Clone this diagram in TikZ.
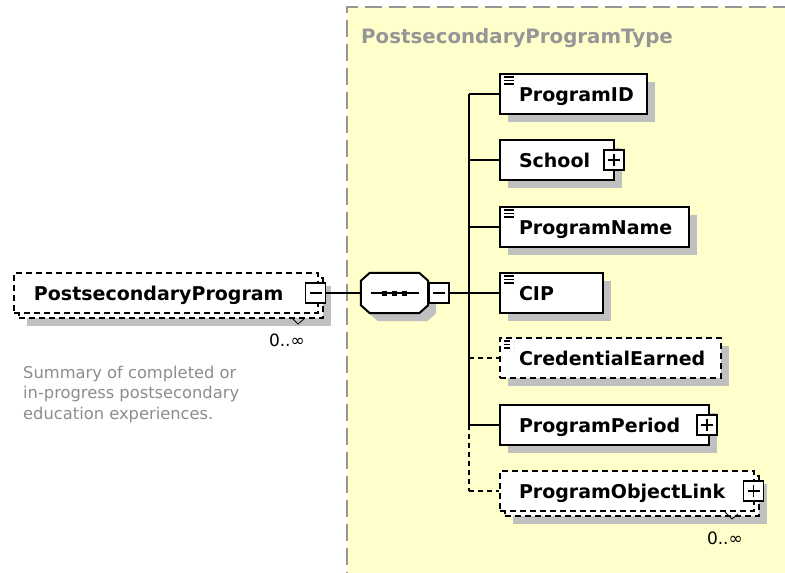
\documentclass[tikz,border=0pt]{standalone}
\usepackage{fontspec}
\setmainfont{DejaVu Sans}
\usetikzlibrary{shadows}
\definecolor{ybg}{RGB}{255,255,204}
\definecolor{bordergray}{RGB}{150,150,150}
\definecolor{titlegray}{RGB}{150,150,150}
\definecolor{descgray}{RGB}{140,140,140}
\definecolor{shgray}{RGB}{192,192,192}
\newcommand\elemfont{\bfseries\fontsize{19}{22}\selectfont}
\newcommand\occfont{\fontsize{17}{20}\selectfont}
\newcommand\lpad{\hspace*{19pt}}
\newcommand\octpath[1]{([xshift=9pt]#1.north west) -- ([xshift=-9pt]#1.north east) -- ([yshift=-8pt]#1.north east) -- ([yshift=8pt]#1.south east) -- ([xshift=-9pt]#1.south east) -- ([xshift=9pt]#1.south west) -- ([yshift=8pt]#1.south west) -- ([yshift=-8pt]#1.north west) -- cycle}
\begin{document}
\begin{tikzpicture}[x=1pt,y=-1pt,
  elembase/.style={draw=black, line width=2pt, fill=white, anchor=west,
    inner xsep=0pt, inner ysep=0pt, minimum height=40pt, align=left,
    text height=14pt, text depth=0pt, font=\elemfont},
  sh/.style={general shadow={fill=shgray, draw=none, shadow xshift=8pt, shadow yshift=-8pt}},
  elem/.style={elembase, sh},
  optdash/.style={dash pattern=on 6pt off 4pt},
  multi/.style={elembase, optdash,
    general shadow={fill=shgray, draw=none, shadow xshift=13pt, shadow yshift=-13pt},
    general shadow={fill=white, draw=black, line width=2pt, dash pattern=on 6pt off 4pt, shadow xshift=5pt, shadow yshift=-5pt}},
  simple/.style={path picture={
    \foreach \d in {3,6.5,10}
      \draw[line width=1.2pt] ([shift={(4pt,-\d pt)}]path picture bounding box.north west) -- +(10pt,0);}},
  pmbox/.style={draw=black, fill=white, line width=1.5pt, minimum size=20pt, inner sep=0pt},
  minusbox/.style={pmbox, path picture={
    \draw[line width=1.5pt, shorten <=4pt, shorten >=4pt] (path picture bounding box.west) -- (path picture bounding box.east);}},
  plusbox/.style={pmbox, path picture={
    \draw[line width=1.5pt, shorten <=4pt, shorten >=4pt] (path picture bounding box.west) -- (path picture bounding box.east);
    \draw[line width=1.5pt, shorten <=4pt, shorten >=4pt] (path picture bounding box.north) -- (path picture bounding box.south);}},
  conn/.style={line width=2pt, draw=black},
  optconn/.style={conn, dash pattern=on 5pt off 4pt},
  occ/.style={font=\occfont, anchor=base east, inner sep=0pt},
]
\useasboundingbox (0,0) rectangle (785,573);

% yellow complex type area
\fill[ybg] (347,7) rectangle (790,580);
\draw[bordergray, line width=2pt, dash pattern=on 17pt off 7pt] (790,7) -- (347,7) -- (347,580);
\node[anchor=base west, inner sep=0pt, text=titlegray, font=\bfseries\fontsize{19.8}{22}\selectfont] (ttl) at (361,43) {PostsecondaryProgramType};

% left element
\node[multi, text width=304pt] (pp) at (13,293) {\hspace*{20pt}PostsecondaryProgram};
\node[minusbox] (ppm) at (315.5,293) {};
\draw[black, line width=0.8pt] (291,317) -- (298,324) -- (304,319);
\node[occ] (ppocc) at (305,346) {0..∞};
\node[anchor=base west, inner sep=0pt, align=left, text=descgray, font=\fontsize{16.3}{20.5}\selectfont] (desc) at (23,419)
  {Summary of completed or\\in-progress postsecondary\\education experiences.};

% sequence compositor
\node[draw=none, minimum width=67pt, minimum height=40pt, inner sep=0pt] (seq) at (394.5,293) {};
\fill[shgray, transform canvas={shift={(8pt,-8pt)}}] \octpath{seq};
\draw[black, fill=white, line width=2pt] \octpath{seq};
\draw[line width=2pt] (seq.center) +(-24,0) -- +(24,0);
\foreach \dx in {-10,0,10}
  \fill ([xshift=\dx pt]seq.center) +(-2.5,-2.5) rectangle +(2.5,2.5);
\node[minusbox] (seqm) at (439,293) {};

\draw[conn] (ppm.east) -- (seq.west);

% children
\node[elem, simple, text width=147pt] (pid) at (499,94) {\lpad ProgramID};
\node[elem, text width=114pt] (school) at (499,160) {\lpad School};
\node[plusbox] (schoolp) at (614,160) {};
\node[elem, simple, text width=189pt] (pname) at (499,227) {\lpad ProgramName};
\node[elem, simple, text width=103pt] (cip) at (499,293) {\lpad CIP};
\node[elem, simple, optdash, text width=221pt] (cred) at (499,358) {\lpad CredentialEarned};
\node[elem, text width=209pt] (pper) at (499,425) {\lpad ProgramPeriod};
\node[plusbox] (pperp) at (707,425) {};
\node[multi, text width=254pt] (pol) at (499,491) {\lpad ProgramObjectLink};
\node[plusbox] (polp) at (753.5,491) {};
\draw[black, line width=0.8pt] (725,512) -- (732,519) -- (738,514);
\node[occ] (polocc) at (743,544) {0..∞};

% trunk
\coordinate (jct) at (469,293);
\draw[conn] (seqm.east) -- (jct);
\draw[conn] (jct |- pid.west) -- (jct |- pper.west);
\draw[optconn] (jct |- pper.west) -- (jct |- pol.west);
\draw[conn] (jct |- pid.west) -- (pid.west);
\draw[conn] (jct |- school.west) -- (school.west);
\draw[conn] (jct |- pname.west) -- (pname.west);
\draw[conn] (jct) -- (cip.west);
\draw[optconn] (jct |- cred.west) -- (cred.west);
\draw[conn] (jct |- pper.west) -- (pper.west);
\draw[optconn] (jct |- pol.west) -- (pol.west);
\end{tikzpicture}
\end{document}
